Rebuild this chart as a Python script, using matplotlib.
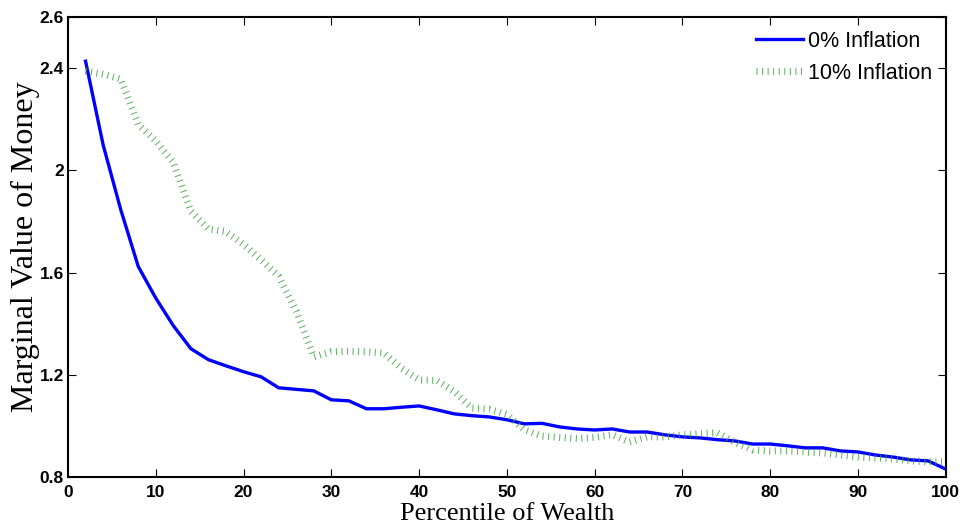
import numpy as np
import matplotlib
matplotlib.use('Agg')
import matplotlib.pyplot as plt

plt.rcParams['lines.scale_dashes'] = False

# percentile of wealth
pct = list(range(2, 101, 2))
# 0% inflation
infl0 = [2.427, 2.100, 1.847, 1.624, 1.500, 1.392, 1.302, 1.259, 1.235, 1.212,
         1.192, 1.149, 1.143, 1.137, 1.102, 1.098, 1.067, 1.067, 1.073, 1.078,
         1.063, 1.047, 1.040, 1.035, 1.024, 1.008, 1.010, 0.996, 0.988, 0.984,
         0.988, 0.976, 0.976, 0.965, 0.957, 0.953, 0.946, 0.941, 0.929, 0.929,
         0.922, 0.914, 0.914, 0.902, 0.898, 0.886, 0.878, 0.867, 0.863, 0.831]
# 10% inflation
infl10 = [2.388, 2.376, 2.357, 2.180, 2.115, 2.030, 1.840, 1.770, 1.760, 1.710,
          1.650, 1.585, 1.450, 1.270, 1.290, 1.292, 1.290, 1.285, 1.225, 1.180,
          1.178, 1.135, 1.070, 1.065, 1.045, 0.985, 0.960, 0.955, 0.950, 0.955,
          0.965, 0.937, 0.957, 0.957, 0.965, 0.969, 0.973, 0.935, 0.906, 0.902,
          0.902, 0.898, 0.894, 0.886, 0.878, 0.874, 0.871, 0.863, 0.859, 0.859]

fig = plt.figure(figsize=(9.66, 5.31), dpi=100)
ax = fig.add_axes([0.0704, 0.1017, 0.9086, 0.8663])

ax.plot(pct, infl0, color='#0000ff', lw=2.4, label='0% Inflation')
ax.plot(pct, infl10, color='#3f9f3f', lw=5, linestyle=(0, (0.7, 3.3)),
        dash_capstyle='butt', alpha=0.85, label='10% Inflation')

ax.set_xlim(0, 100)
ax.set_ylim(0.8, 2.6)
ax.set_xticks(range(0, 101, 10))
ax.set_yticks([0.8, 1.2, 1.6, 2.0, 2.4, 2.6])
ax.set_yticklabels(['0.8', '1.2', '1.6', '2', '2.4', '2.6'])
ax.tick_params(direction='in', top=True, right=True, length=6, width=0.8,
               labelsize=12.5)
ax.tick_params(axis='x', pad=6)
ax.tick_params(axis='y', pad=3)
for lab in ax.get_xticklabels() + ax.get_yticklabels():
    lab.set_family('Liberation Sans')
    lab.set_fontweight('bold')
for sp in ax.spines.values():
    sp.set_linewidth(1.5)

ax.set_xlabel('Percentile of Wealth', family='Liberation Serif', fontsize=19, labelpad=2)
ax.set_ylabel('Marginal Value of Money', family='Liberation Serif', fontsize=23, labelpad=-0.5)

leg = ax.legend(loc='upper right', frameon=False, prop={'family': 'Liberation Sans', 'size': 15.5},
                handlelength=2.2, handletextpad=0.2, borderaxespad=0.25, labelspacing=0.5)

fig.savefig('out.png', dpi=100)
